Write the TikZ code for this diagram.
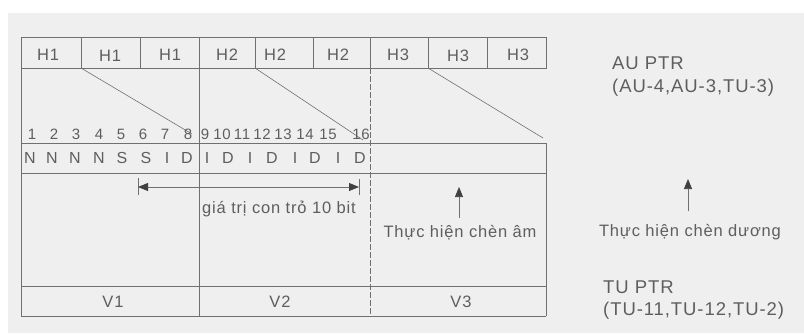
\documentclass[tikz,border=0pt]{standalone}
\usepackage{fontspec}
\setmainfont{Liberation Sans}
\newfontfamily\lbl[LetterSpace=5]{Liberation Sans}
\usetikzlibrary{arrows.meta}
\definecolor{bg}{HTML}{EFEFEF}
\definecolor{ln}{HTML}{707070}
\definecolor{tip}{HTML}{404040}
\definecolor{tx}{HTML}{5E5E5E}
\begin{document}
\begin{tikzpicture}[x=1pt,y=-1pt,
  frame/.style={draw=ln,line width=0.8pt},
  hlab/.style={font=\lbl\fontsize{16.5}{18}\selectfont,text=tx,inner sep=0pt,anchor=center},
  numlab/.style={font=\lbl\fontsize{15}{16}\selectfont,text=tx,inner sep=0pt,anchor=base},
  bitlab/.style={font=\lbl\fontsize{16}{18}\selectfont,text=tx,inner sep=0pt,anchor=base},
  sidelab/.style={font=\lbl\fontsize{18.5}{20}\selectfont,text=tx,inner sep=0pt,anchor=base west},
  smalllab/.style={font=\lbl\fontsize{16.5}{18}\selectfont,text=tx,inner sep=0pt},
  uparrow/.style={draw=ln,line width=0.7pt,-{Triangle[length=10pt,width=8pt,color=tip]}},
  dimarrow/.style={draw=ln,line width=0.8pt,{Triangle[length=10pt,width=8pt,color=tip]}-{Triangle[length=10pt,width=8pt,color=tip]}}]
\useasboundingbox (0,0) rectangle (804,333);
\fill[white] (0,0) rectangle (804,333);
\fill[bg] (8,13) rectangle (804,333);

% top header box
\draw[frame] (21,37) rectangle (546,68);
\foreach \x in {81,140,199,255,313,370,428,487}
  \draw[frame] (\x,37) -- (\x,68);

% verticals
\draw[frame] (21,68) -- (21,316);
\draw[frame,line width=1pt] (199,68) -- (199,316);
\draw[frame,dash pattern=on 6pt off 2pt] (370,68) -- (370,316);
\draw[frame] (546,143) -- (546,316);

% horizontals
\foreach \y in {143,173,286,316}
  \draw[frame] (21,\y) -- (546,\y);

% diagonals
\draw[frame,line width=0.6pt] (81,68) -- (192,134);
\draw[frame,line width=0.6pt] (255,68) -- (363,140);
\draw[frame,line width=0.6pt] (428,68) -- (543,138);

% H labels
\node[hlab] (h11) at (48,55) {H1};
\node[hlab] (h12) at (110,56) {H1};
\node[hlab] (h13) at (170,55) {H1};
\node[hlab] (h21) at (227,55) {H2};
\node[hlab] (h22) at (275,55) {H2};
\node[hlab] (h23) at (338,55) {H2};
\node[hlab] (h31) at (398,55) {H3};
\node[hlab] (h32) at (458,56) {H3};
\node[hlab] (h33) at (518,55) {H3};

% number row
\node[numlab] (n1) at (32,139) {1};
\node[numlab] (n2) at (54,139) {2};
\node[numlab] (n3) at (76,139) {3};
\node[numlab] (n4) at (99,139) {4};
\node[numlab] (n5) at (121,139) {5};
\node[numlab] (n6) at (143,139) {6};
\node[numlab] (n7) at (165,139) {7};
\node[numlab] (n8) at (188,139) {8};
\node[numlab] (n9) at (205,139) {9};
\node[numlab] (n10) at (222,139) {10};
\node[numlab] (n11) at (242,139) {11};
\node[numlab] (n12) at (262,139) {12};
\node[numlab] (n13) at (283,139) {13};
\node[numlab] (n14) at (305,139) {14};
\node[numlab] (n15) at (328,139) {15};
\node[numlab] (n16) at (361,139) {16};

% bits row
\node[bitlab] (b1) at (30,163) {N};
\node[bitlab] (b2) at (52,163) {N};
\node[bitlab] (b3) at (75,163) {N};
\node[bitlab] (b4) at (99,163) {N};
\node[bitlab] (b5) at (122,163) {S};
\node[bitlab] (b6) at (146,163) {S};
\node[bitlab] (b7) at (167,163) {I};
\node[bitlab] (b8) at (187,163) {D};
\node[bitlab] (b9) at (207,163) {I};
\node[bitlab] (b10) at (228,163) {D};
\node[bitlab] (b11) at (250,163) {I};
\node[bitlab] (b12) at (272,163) {D};
\node[bitlab] (b13) at (295,163) {I};
\node[bitlab] (b14) at (315,163) {D};
\node[bitlab] (b15) at (338,163) {I};
\node[bitlab] (b16) at (360,163) {D};

% pointer value dimension
\coordinate (dl) at (138,187);
\coordinate (dr) at (359,187);
\draw[frame] (138,178) -- (138,195);
\draw[frame] (359,179) -- (359,195);
\draw[dimarrow] (dl) -- (dr);
\node[smalllab,anchor=base west] (ptr) at (202,213) {giá trị con trỏ 10 bit};

% negative / positive justification
\node[smalllab,anchor=base] (neg) at (460,237) {Thực hiện chèn âm};
\coordinate (negtail) at (459,218);
\coordinate (negtip) at (459,187);
\draw[uparrow] (negtail) -- (negtip);
\node[smalllab,anchor=base] (pos) at (690,236) {Thực hiện chèn dương};
\coordinate (postail) at (688,211);
\coordinate (postip) at (688,179);
\draw[uparrow] (postail) -- (postip);

% V row
\node[hlab] (v1) at (113,302) {V1};
\node[hlab] (v2) at (280,302) {V2};
\node[hlab] (v3) at (461,302) {V3};

% side labels
\node[sidelab] (au1) at (612,69) {AU PTR};
\node[sidelab] (au2) at (612,92) {(AU-4,AU-3,TU-3)};
\node[sidelab] (tu1) at (603,293) {TU PTR};
\node[sidelab] (tu2) at (603,315) {(TU-11,TU-12,TU-2)};
\end{tikzpicture}
\end{document}
